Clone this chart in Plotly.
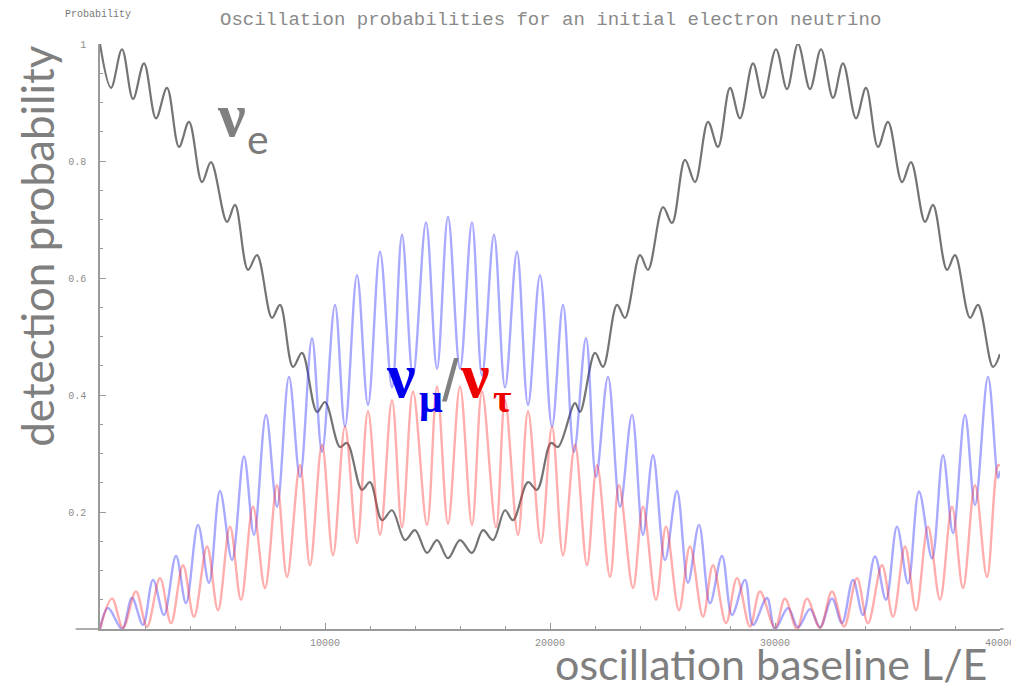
import plotly.graph_objects as go

# ---------------- data ----------------
# L/E positions of the local extrema of each curve, and the probabilities there
nue_x = [0, 489, 978, 1467, 1956, 2489, 2978, 3511, 3956, 4533,
         4933, 5644, 6000, 6578, 6978, 7644, 8000, 8578, 8978, 9644,
         10000, 10667, 10978, 11644, 12000, 12533, 12978, 13556, 14000, 14533,
         14978, 15467, 16000, 16533, 17022, 17467, 18000, 18356, 19022, 19422,
         20044, 20356, 21111, 21333, 22000, 22356, 22978, 23333, 24000, 24356,
         25022, 25422, 26000, 26444, 27022, 27467, 28000, 28444, 29022, 29467,
         30044, 30533, 31022, 31556, 32044, 32578, 33022, 33600, 34044, 34578,
         35022, 35644, 36044, 36667, 37022, 37644, 38000, 38667, 39022, 39689,
         40000]
nue_p = [1.0, .925, .991, .906, .967, .873, .925, .824, .867, .764,
         .798, .696, .725, .614, .639, .532, .554, .448, .472, .371,
         .388, .311, .318, .238, .251, .186, .203, .152, .169, .130,
         .152, .121, .152, .130, .169, .152, .203, .186, .251, .238,
         .318, .311, .386, .371, .472, .448, .554, .532, .639, .614,
         .721, .694, .802, .764, .867, .824, .925, .873, .967, .908,
         .991, .923, 1.0, .923, .991, .908, .967, .873, .925, .824,
         .867, .764, .798, .696, .725, .614, .639, .532, .554, .448,
         .47]

numu_x = [0, 356, 978, 1422, 1911, 2356, 2844, 3378, 3822, 4356,
          4844, 5333, 5867, 6400, 6844, 7378, 7867, 8400, 8889, 9422,
          9867, 10444, 10889, 11422, 11911, 12444, 12978, 13422, 13911, 14489,
          14978, 15467, 16000, 16533, 16978, 17511, 18000, 18533, 19022, 19556,
          20089, 20578, 21067, 21600, 22044, 22578, 23111, 23644, 24133, 24578,
          25111, 25644, 26133, 26622, 27111, 27644, 28089, 28667, 29022, 29644,
          30000, 30578, 31022, 31556, 32000, 32533, 32978, 33467, 33911, 34444,
          34933, 35422, 35911, 36400, 36978, 37467, 37911, 38444, 38889, 39467,
          39911, 40000]
numu_p = [0, .036, 0, .053, .007, .084, .024, .125, .044, .178,
          .079, .236, .118, .295, .161, .366, .209, .431, .260, .497,
          .303, .554, .346, .605, .383, .645, .413, .674, .433, .695,
          .445, .705, .445, .695, .433, .674, .413, .645, .383, .605,
          .346, .554, .303, .497, .260, .431, .209, .366, .161, .297,
          .118, .236, .079, .178, .044, .125, .024, .084, .007, .053,
          0, .036, .003, .034, .003, .052, .010, .084, .024, .124,
          .050, .175, .078, .235, .121, .297, .164, .366, .212, .431,
          .258, .27]

nutau_x = [0, 533, 1022, 1600, 2089, 2667, 3156, 3689, 4178, 4756,
           5244, 5778, 6267, 6800, 7333, 7867, 8311, 8889, 9333, 9867,
           10356, 10889, 11422, 11911, 12444, 12978, 13422, 13911, 14533, 14978,
           15467, 16000, 16533, 16978, 17600, 18000, 18578, 19022, 19600, 20089,
           20578, 21111, 21644, 22089, 22667, 23067, 23689, 24133, 24711, 25156,
           25733, 26222, 26800, 27244, 27822, 28311, 28889, 29333, 30000, 30444,
           30978, 31422, 32000, 32533, 33067, 33644, 34133, 34756, 35244, 35778,
           36267, 36800, 37333, 37867, 38356, 38889, 39422, 39911, 40000]
nutau_p = [0, .052, .002, .064, .004, .087, .010, .109, .021, .141,
           .032, .175, .050, .209, .070, .246, .089, .280, .109, .315,
           .126, .346, .147, .372, .161, .391, .174, .406, .178, .414,
           .180, .414, .178, .406, .174, .391, .161, .372, .147, .346,
           .126, .315, .109, .280, .089, .246, .070, .209, .050, .175,
           .032, .141, .021, .109, .010, .087, .004, .064, .002, .052,
           .000, .052, .002, .064, .004, .087, .010, .109, .021, .141,
           .032, .175, .050, .209, .070, .246, .089, .280, .279]

x_tickvals = [10000, 20000, 30000, 40000]
x_ticktext = ["10000", "20000", "30000", "40000"]
y_tickvals = [0.2, 0.4, 0.6, 0.8, 1.0]
y_ticktext = ["0.2", "0.4", "0.6", "0.8", "1"]

title_text = "Oscillation probabilities for an initial electron neutrino"
y_small_label = "Probability"
y_big_label = "detection probability"
x_big_label = "oscillation baseline L/E"

# ---------------- figure ----------------
fig = go.Figure()

fig.add_trace(go.Scatter(
    x=nue_x, y=nue_p, mode="lines", name="nu_e",
    line=dict(color="rgba(85,85,85,0.82)", width=2.2, shape="spline", smoothing=1.0),
    hoverinfo="skip", showlegend=False))
fig.add_trace(go.Scatter(
    x=numu_x, y=numu_p, mode="lines", name="nu_mu",
    line=dict(color="rgba(50,50,255,0.42)", width=2.4, shape="spline", smoothing=1.0),
    hoverinfo="skip", showlegend=False))
fig.add_trace(go.Scatter(
    x=nutau_x, y=nutau_p, mode="lines", name="nu_tau",
    line=dict(color="rgba(255,50,50,0.40)", width=2.4, shape="spline", smoothing=1.0),
    hoverinfo="skip", showlegend=False))

axis_col = "#9a9a9a"
tick_font = dict(family="Liberation Mono, Courier New, monospace", size=10, color="#8c8c8c")

# the page body has an 8 px margin, so the figure is made 8 px smaller
fig.update_layout(
    width=1011, height=683,
    margin=dict(l=92, r=19, t=36, b=62, autoexpand=False),
    paper_bgcolor="white", plot_bgcolor="white",
    xaxis=dict(range=[0, 40000], tickvals=x_tickvals, ticktext=x_ticktext,
               ticks="inside", ticklen=6, tickwidth=1, tickcolor=axis_col,
               showline=True, linecolor=axis_col, linewidth=1.6,
               showgrid=False, zeroline=False, tickfont=tick_font,
               ticklabelstandoff=3, ticklabeloverflow="allow",
               minor=dict(dtick=2000, tick0=0, ticks="inside", ticklen=3,
                          tickcolor=axis_col, showgrid=False)),
    yaxis=dict(range=[0, 1], tickvals=y_tickvals, ticktext=y_ticktext,
               ticks="inside", ticklen=6, tickwidth=1, tickcolor=axis_col,
               showline=True, linecolor=axis_col, linewidth=1.6,
               showgrid=False, zeroline=False, tickfont=tick_font,
               ticklabelstandoff=10,
               minor=dict(dtick=0.05, tick0=0, ticks="inside", ticklen=3,
                          tickcolor=axis_col, showgrid=False)),
    shapes=[
        dict(type="line", xref="paper", yref="paper", x0=-0.027, x1=0.0, y0=0, y1=0,
             line=dict(color=axis_col, width=1.6)),
        dict(type="line", xref="paper", yref="paper", x0=1.0, x1=1.004, y0=0, y1=0,
             line=dict(color=axis_col, width=1.6)),
    ],
)

annotations = [
    dict(text=title_text, x=0.5, y=1.041, xref="paper", yref="paper",
         xanchor="center", yanchor="middle", showarrow=False,
         font=dict(family="Liberation Mono, Courier New, monospace", size=19, color="#8a8a8a")),
    dict(text=y_small_label, x=-0.002, y=1.051, xref="paper", yref="paper",
         xanchor="center", yanchor="middle", showarrow=False,
         font=dict(family="Liberation Mono, Courier New, monospace", size=10, color="#777777")),
    dict(text=y_big_label, x=-0.07, y=0.655, xref="paper", yref="paper",
         xanchor="center", yanchor="middle", showarrow=False, textangle=-90,
         font=dict(family="Lato, Open Sans, sans-serif", size=44, color="#7f7f7f")),
    dict(text=x_big_label, x=0.7456, y=-0.059, xref="paper", yref="paper",
         xanchor="center", yanchor="middle", showarrow=False,
         font=dict(family="Lato, Open Sans, sans-serif", size=43, color="#7f7f7f")),
    # nu_e label
    dict(text="<b>ν</b>", x=0.1456, y=0.878, xref="paper", yref="paper",
         xanchor="center", yanchor="middle", showarrow=False,
         font=dict(family="Liberation Serif, DejaVu Serif, serif", size=62, color="#808080")),
    dict(text="e", x=0.1756, y=0.8391, xref="paper", yref="paper",
         xanchor="center", yanchor="middle", showarrow=False,
         font=dict(family="Lato, Open Sans, sans-serif", size=41, color="#7a7a7a")),
    # nu_mu / nu_tau label
    dict(text="<b>ν</b>", x=0.3344, y=0.4335, xref="paper", yref="paper",
         xanchor="center", yanchor="middle", showarrow=False,
         font=dict(family="Liberation Serif, DejaVu Serif, serif", size=64, color="#0000ee")),
    dict(text="<b>μ</b>", x=0.3678, y=0.3952, xref="paper", yref="paper",
         xanchor="center", yanchor="middle", showarrow=False,
         font=dict(family="Liberation Serif, DejaVu Serif, serif", size=42, color="#0000ee")),
    dict(text="/", x=0.3894, y=0.4253, xref="paper", yref="paper",
         xanchor="center", yanchor="middle", showarrow=False,
         font=dict(family="Liberation Sans, Arial, sans-serif", size=60, color="#808080")),
    dict(text="<b>ν</b>", x=0.4167, y=0.4335, xref="paper", yref="paper",
         xanchor="center", yanchor="middle", showarrow=False,
         font=dict(family="Liberation Serif, DejaVu Serif, serif", size=64, color="#ee0000")),
    dict(text="<b>τ</b>", x=0.4472, y=0.394, xref="paper", yref="paper",
         xanchor="center", yanchor="middle", showarrow=False,
         font=dict(family="Liberation Serif, DejaVu Serif, serif", size=40, color="#ee0000")),
]
fig.update_layout(annotations=annotations)

fig.write_html("out.html")
